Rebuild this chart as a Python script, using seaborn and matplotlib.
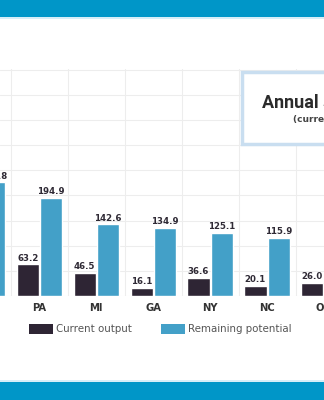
import numpy as np
import pandas as pd
import seaborn as sns
import matplotlib.pyplot as plt
from matplotlib.patches import Rectangle, Patch

# ---- data ----
states = ["IL", "PA", "MI", "GA", "NY", "NC", "OH"]
current_output = [np.nan, 63.2, 46.5, 16.1, 36.6, 20.1, 26.0]
remaining_potential = [225.8, 194.9, 142.6, 134.9, 125.1, 115.9, np.nan]
series = ["Current output", "Remaining potential"]
colors = ["#2e2534", "#43a0c8"]

df = pd.DataFrame({
    "state": states * 2,
    "series": [series[0]] * len(states) + [series[1]] * len(states),
    "value": current_output + remaining_potential,
})

sns.set_theme(style="white")
plt.rcParams["font.family"] = ["DejaVu Sans"]

W, H = 324, 400
fig = plt.figure(figsize=(W / 100, H / 100), dpi=100)
fig.patch.set_facecolor("white")

ymax = 451
px_per_unit = 0.503
ax_h = ymax * px_per_unit / H
ax = fig.add_axes([0, (H - 296) / H, 1, ax_h])

sns.barplot(data=df, x="state", y="value", hue="series", order=states,
            hue_order=series, palette=colors, width=0.82, gap=0.05,
            saturation=1, errorbar=None, legend=False, ax=ax, zorder=2)

for c in ax.containers:
    labels = ["" if np.isnan(v) else f"{v:.1f}" for v in c.datavalues]
    anns = ax.bar_label(c, labels=labels, padding=1.2, fontsize=6.2,
                        fontweight="bold", color="#2f2a35")
    for a in anns:
        a.set_annotation_clip(False)

ax.set_yticks(np.arange(0, 451, 50))
ax.set_yticklabels([])
ax.set_xticks(np.arange(-0.5, len(states), 1), minor=True)
ax.set_xlim(0.307, 6.0)
ax.set_ylim(0, ymax)
ax.grid(False)
ax.yaxis.grid(True, color="#ededed", lw=0.8, zorder=0)
ax.xaxis.grid(True, which="minor", color="#ededed", lw=0.8, zorder=0)
ax.xaxis.grid(False, which="major")
ax.set_axisbelow(True)
for s in ax.spines.values():
    s.set_visible(False)
ax.set_xlabel("")
ax.set_ylabel("")
ax.tick_params(axis="x", which="both", length=0, pad=5, labelsize=7.2,
               labelcolor="#333333")
ax.tick_params(axis="y", length=0)
for t in ax.get_xticklabels():
    t.set_fontweight("bold")

# legend
handles = [Patch(facecolor=c, edgecolor="none") for c in colors]
fig.legend(handles, series, loc="center", bbox_to_anchor=(160.5 / W, 1 - 329 / H),
           ncol=2, frameon=False, fontsize=7.35, handlelength=2.3,
           handleheight=1.15, handletextpad=0.3, columnspacing=2.9,
           labelcolor="#555555")

# top and bottom bands
fig.add_artist(Rectangle((0, 1 - 17 / H), 1, 17 / H, transform=fig.transFigure,
                         facecolor="#0096c8", edgecolor="none", zorder=5))
fig.add_artist(Rectangle((0, 1 - 19 / H), 1, 2 / H, transform=fig.transFigure,
                         facecolor="#d6eef8", edgecolor="none", zorder=5))
fig.add_artist(Rectangle((0, 0), 1, 18 / H, transform=fig.transFigure,
                         facecolor="#0096c8", edgecolor="none", zorder=5))
fig.add_artist(Rectangle((0, 18 / H), 1, 2 / H, transform=fig.transFigure,
                         facecolor="#d6eef8", edgecolor="none", zorder=5))

# title box
fig.add_artist(Rectangle((242 / W, 1 - 144 / H), 0.5, 72 / H,
                         transform=fig.transFigure, facecolor="white",
                         edgecolor="#c9def0", lw=2.5, zorder=6))
fig.text(262 / W, 1 - 108 / H, "Annual solar generation", ha="left",
         va="baseline", fontsize=13, fontweight="bold", family="Roboto",
         color="#2b2b2b", zorder=7)
fig.text(293 / W, 1 - 122 / H, "(current vs. remaining potential, TWh)",
         ha="left", va="baseline", fontsize=6.5, fontweight="bold",
         color="#444444", zorder=7)

fig.savefig("out.png", dpi=100)
